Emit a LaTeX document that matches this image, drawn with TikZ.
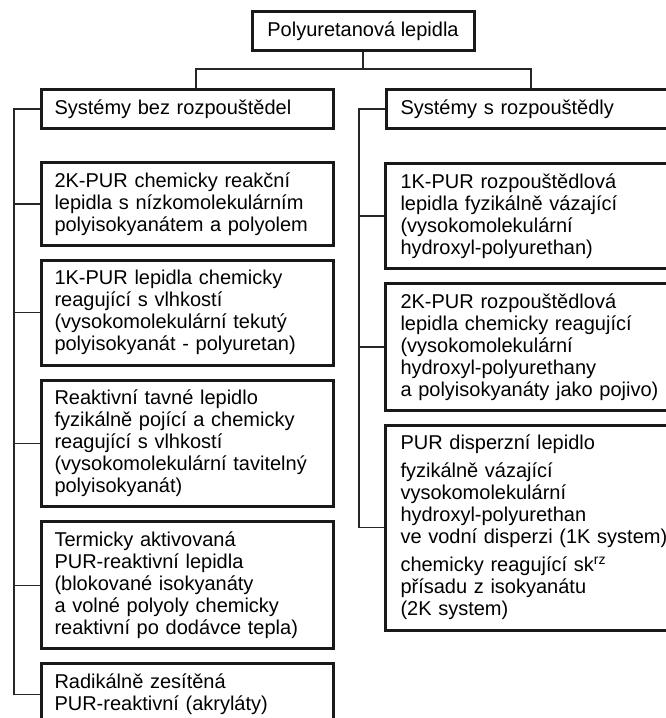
\documentclass[tikz,border=0pt]{standalone}
\usepackage{fontspec}
\setmainfont{Liberation Sans}
\usetikzlibrary{positioning}

\begin{document}
\begin{tikzpicture}[
  x=1pt, y=1pt,
  node distance=12pt,
  head/.style={draw=black!90, line width=3pt, font=\fontsize{20}{22}\selectfont, minimum height=39pt, align=left, anchor=north west, inner xsep=13pt},
  item/.style={draw=black!90, line width=3pt, font=\fontsize{20}{22}\selectfont, align=left, text width=266pt, inner xsep=13pt, inner ysep=10pt},
  ritem/.style={item, text width=300pt, inner xsep=15pt},
  link/.style={draw=black!85, line width=1.4pt}
]
\clip (0,0) rectangle (666,-718);
\fill[white] (0,0) rectangle (666,-718);

% top and the two groups
\node[head, align=center, anchor=north, minimum width=222pt, inner xsep=4pt] (root) at (363,-10) {Polyuretanová lepidla};
\node[head, text width=266pt] (lhead) at (40,-88) {Systémy bez rozpouštědel};
\node[head, text width=300pt, inner xsep=14pt] (rhead) at (385,-88) {Systémy s rozpouštědly};

% left column
\node[item, anchor=north west] (l1) at (40,-161) {2K-PUR chemicky reakční\\lepidla s nízkomolekulárním\\polyisokyanátem a polyolem};
\node[item, below=of l1] (l2) {1K-PUR lepidla chemicky\\reagující s vlhkostí\\(vysokomolekulární tekutý\\polyisokyanát - polyuretan)};
\node[item, below=of l2] (l3) {Reaktivní tavné lepidlo\\fyzikálně pojící a chemicky\\reagující s vlhkostí\\(vysokomolekulární tavitelný\\polyisokyanát)};
\node[item, below=of l3] (l4) {Termicky aktivovaná\\PUR-reaktivní lepidla\\(blokované isokyanáty\\a volné polyoly chemicky\\reaktivní po dodávce tepla)};
\node[item, below=of l4] (l5) {Radikálně zesítěná\\PUR-reaktivní (akryláty)};

% right column
\node[ritem, anchor=north west] (r1) at (384,-162) {1K-PUR rozpouštědlová\\lepidla fyzikálně vázající\\(vysokomolekulární\\hydroxyl-polyurethan)};
\node[ritem, below=of r1] (r2) {2K-PUR rozpouštědlová\\lepidla chemicky reagující\\(vysokomolekulární\\hydroxyl-polyurethany\\a polyisokyanáty jako pojivo)};
\node[ritem, below=of r2] (r3) {PUR disperzní lepidlo\\[6pt]fyzikálně vázající\\vysokomolekulární\\hydroxyl-polyurethan\\ve vodní disperzi (1K system)\\[6pt]chemicky reagující sk\textsuperscript{rz}\\přísadu z isokyanátu\\(2K system)};

% connectors
\coordinate (bus) at (363,-69);
\draw[link] (root.south) -- (bus);
\draw[link] ([xshift=156pt]lhead.north west) |- (bus) -| ([xshift=146pt]rhead.north west);

\coordinate (lspine) at ([xshift=-26pt]lhead.west);
\draw[link] (lhead.west) -- (lspine) |- (l5.west);
\foreach \n in {l1,l2,l3,l4}
  \draw[link] (lspine |- \n.west) -- (\n.west);

\coordinate (rspine) at ([xshift=-26pt]rhead.west);
\draw[link] (rhead.west) -- (rspine) |- (r3.west);
\foreach \n in {r1,r2}
  \draw[link] (rspine |- \n.west) -- (\n.west);
\end{tikzpicture}
\end{document}
